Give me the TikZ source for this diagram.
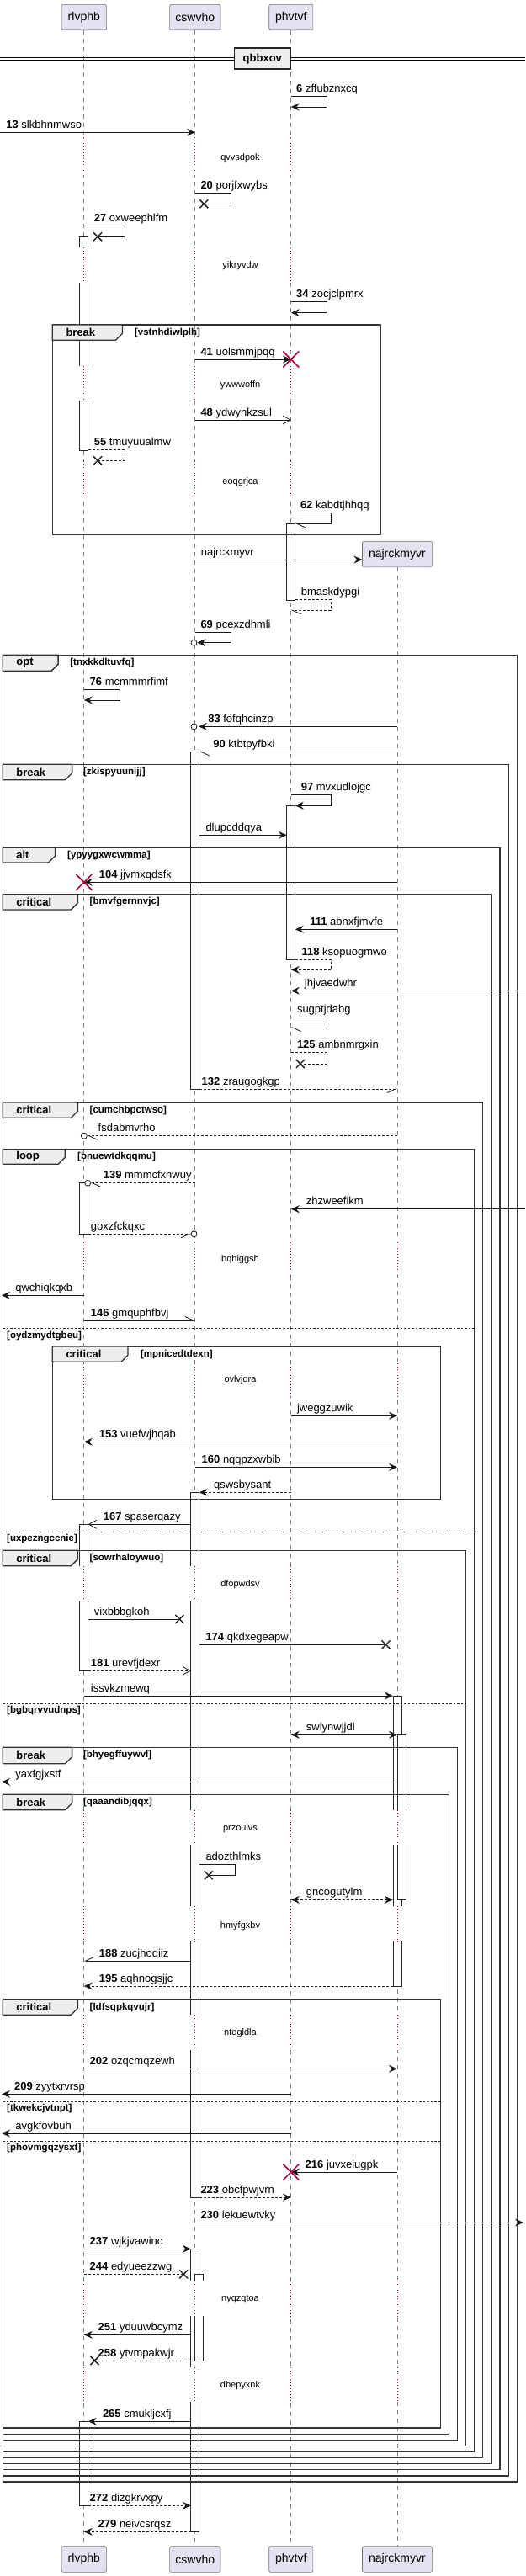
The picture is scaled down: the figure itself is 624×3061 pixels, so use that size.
\documentclass[tikz,border=0pt]{standalone}
\usepackage{fontspec}
\setmainfont{Liberation Sans}
\usetikzlibrary{arrows.meta}
\definecolor{crim}{HTML}{A80036}
\definecolor{partfill}{HTML}{E2E2F0}
\definecolor{tabgray}{HTML}{EEEEEE}
\newcommand\fmsg{\fontsize{13}{15}\selectfont}
\newcommand\fsml{\fontsize{11}{13}\selectfont}
\newcommand\fgrd{\fontsize{11.5}{13}\selectfont\bfseries}
\newcommand\ftab{\fontsize{13}{15}\selectfont\bfseries}
\newcommand\fpart{\fontsize{14}{16}\selectfont}
\def\xA{99.8}\def\xB{231.8}\def\xC{345.8}\def\xD{471.9}
\newcommand\actbox[4]{\draw[actv] ({#1},#3) rectangle ({#2},#4);}
\newcommand\blackx[2]{\draw[xmk] ({#1-5},{#2-5}) -- ({#1+5},{#2+5}) ({#1-5},{#2+5}) -- ({#1+5},{#2-5});}
\newcommand\redx[2]{\draw[rxmk] ({#1-9.5},{#2-9.5}) -- ({#1+9.5},{#2+9.5}) ({#1-9.5},{#2+9.5}) -- ({#1+9.5},{#2-9.5});}
\newcommand\mycirc[2]{\draw[m,fill=white] ({#1},#2) circle[radius=3.5pt];}
\newcommand\mlbl[3]{\node[lbl] at (#1,#2) {#3};}
\newcommand\delaybar[5]{%
  \foreach \xx in {#5} {\fill[white] ({\xx-7},#1) rectangle ({\xx+11},#2); \draw[dly] (\xx,#1) -- (\xx,#2);}
  \node[dtxt] at (285.5,#3) {#4};}
\newcommand\grpframe[9]{%
  \draw[frm] (#1,#2) rectangle (#3,#4);
  \draw[frm,fill=tabgray] (#1,#2) -- (#5,#2) -- (#5,{#6-8}) -- ({#5-8},#6) -- (#1,#6) -- cycle;
  \node[tablbl] at ({#1+16},{(#2+#6)/2}) {#7};
  \node[grd] at (#9,{(#2+#6)/2}) {#8};}
\newcommand\grpelse[3]{%
  \draw[elsl] (3.2,#1) -- (#2,#1);
  \node[grd] at (8,{#1+8.5}) {#3};}
\begin{document}
\begin{tikzpicture}[x=1pt,y=-1pt,
  part/.style={draw=black!55,fill=partfill,rounded corners=2pt,minimum height=30.6pt,inner sep=0pt,font=\fpart,line width=0.6pt},
  life/.style={draw=black!50,line width=0.7pt,dash pattern=on 5pt off 5pt},
  actv/.style={draw=black!85,fill=white,line width=0.8pt},
  m/.style={draw=black!90,line width=0.8pt},
  ds/.style={dash pattern=on 3pt off 2pt},
  fa/.style={-{Stealth[length=10pt,width=9pt,inset=3.5pt]}},
  fab/.style={{Stealth[length=10pt,width=9pt,inset=3.5pt]}-{Stealth[length=10pt,width=9pt,inset=3.5pt]}},
  oa/.style={-{Straight Barb[length=9pt,width=10pt]}},
  hal/.style={-{Straight Barb[left,length=10pt,width=9pt]}},
  har/.style={-{Straight Barb[right,length=10pt,width=9pt]}},
  xmk/.style={draw=black!85,line width=1.5pt},
  rxmk/.style={draw=crim,line width=1.5pt},
  lbl/.style={anchor=base west,inner sep=0pt,font=\fmsg},
  dtxt/.style={inner sep=0pt,font=\fsml},
  dly/.style={draw=crim,line width=0.8pt,dash pattern=on 0.9pt off 2.6pt},
  frm/.style={draw=black!80,line width=1.3pt},
  elsl/.style={draw=black!85,line width=0.8pt,dash pattern=on 2.5pt off 2pt},
  tablbl/.style={anchor=west,inner sep=0pt,font=\ftab},
  grd/.style={anchor=west,inner sep=0pt,font=\fgrd}]
\useasboundingbox (0,0) rectangle (624,3061);
% participants
\node[part,minimum width=53.5pt] (pA) at (\xA,20.65) {rlvphb};
\node[part,minimum width=60.3pt] (pB) at (\xB,20.65) {cswvho};
\node[part,minimum width=52.2pt] (pC) at (\xC,20.65) {phvtvf};
\node[part,minimum width=82.8pt] (pD) at (\xD,658.5) {najrckmyvr};
\node[part,minimum width=53.5pt] (qA) at (\xA,3041) {rlvphb};
\node[part,minimum width=60.3pt] (qB) at (\xB,3041) {cswvho};
\node[part,minimum width=52.2pt] (qC) at (\xC,3041) {phvtvf};
\node[part,minimum width=82.8pt] (qD) at (\xD,3041) {najrckmyvr};
\draw[life] (pA.south) -- (qA.north);
\draw[life] (pB.south) -- (qB.north);
\draw[life] (pC.south) -- (qC.north);
\draw[life] (pD.south) -- (qD.north);
% activations
\actbox{\xA-5}{\xA+5}{281.3}{535}
\actbox{\xC-5}{\xC+5}{622.3}{713.3}
\actbox{\xB-5}{\xB+5}{893.3}{1294}
\actbox{\xC-5}{\xC+5}{957.3}{1140}
\actbox{\xA-5}{\xA+5}{1405.7}{1466}
\actbox{\xB-5}{\xB+5}{1773.3}{2611}
\actbox{\xA-5}{\xA+5}{1811.3}{1985.3}
\actbox{\xD-5}{\xD+5}{2015}{2360}
\actbox{\xD}{\xD+10}{2061.3}{2257.3}
\actbox{\xB-5}{\xB+5}{2672.3}{3008.3}
\actbox{\xB}{\xB+10}{2702.3}{2805}
\actbox{\xA-5}{\xA+5}{2877.3}{2977.3}
% delays
\delaybar{163.3}{208}{187.7}{qvvsdpok}{\xA,\xB,\xC}
\delaybar{294}{336}{316}{yikryvdw}{\xA,\xB,\xC}
\delaybar{435}{476}{457.3}{ywwwoffn}{\xA,\xB,\xC}
\delaybar{547.7}{590.7}{572.3}{eoqgrjca}{\xA,\xB,\xC}
\delaybar{1472.7}{1515}{1496.7}{bqhiggsh}{\xA,\xB,\xC,\xD}
\delaybar{1620}{1660}{1640}{ovlvjdra}{\xA,\xB,\xC,\xD}
\delaybar{1860.7}{1902.7}{1882.3}{dfopwdsv}{\xA,\xB,\xC,\xD}
\delaybar{2150.7}{2192.3}{2172.3}{przoulvs}{\xA,\xB,\xC,\xD}
\delaybar{2265}{2307.3}{2288.3}{hmyfgxbv}{\xA,\xB,\xC,\xD}
\delaybar{2394.3}{2436}{2416}{ntogldla}{\xA,\xB,\xC,\xD}
\delaybar{2710}{2752.3}{2732.3}{nyqzqtoa}{\xA,\xB,\xC,\xD}
\delaybar{2813.3}{2854}{2835}{dbepyxnk}{\xA,\xB,\xC,\xD}
% divider
\draw[line width=0.8pt] (0,68.5) -- (624,68.5) (0,71.8) -- (624,71.8);
\node[draw=black!85,fill=tabgray,line width=1.6pt,minimum width=66.7pt,minimum height=24.7pt,inner sep=0pt,font=\ftab] (dv) at (311.85,69.65) {qbbxov};
% frames
\grpframe{62.3}{386}{452.1}{635}{145.5}{404.3}{break}{[vstnhdiwlplh]}{159.9}
\grpframe{3.2}{778.3}{614.8}{2949}{69.1}{797.3}{opt}{[tnxkkdltuvfq]}{83.2}
\grpframe{3.2}{908.3}{604.8}{2942}{85.6}{926.7}{break}{[zkispyuunijj]}{98.9}
\grpframe{3.2}{1007.3}{593.9}{2934.7}{65.5}{1025}{alt}{[ypyygxwcwmma]}{80}
\grpframe{3.2}{1062.7}{583.9}{2927.7}{92.4}{1081}{critical}{[bmvfgernnvjc]}{106.5}
\grpframe{3.2}{1310}{573.8}{2920.7}{92.4}{1328.3}{critical}{[cumchbpctwso]}{106.5}
\grpframe{3.2}{1365.7}{563.8}{2913.7}{77.2}{1383.3}{loop}{[bnuewtdkqqmu]}{92}
\grpelse{1578.7}{563.8}{[oydzmydtgbeu]}
\grpframe{62.3}{1600}{523.2}{1781.7}{151.9}{1618.3}{critical}{[mpnicedtdexn]}{166.8}
\grpelse{1820.3}{563.8}{[uxpezngccnie]}
\grpframe{3.2}{1842.3}{553.7}{2906.7}{92.4}{1860.7}{critical}{[sowrhaloywuo]}{106.5}
\grpelse{2024}{553.7}{[bgbqrvvudnps]}
\grpframe{3.2}{2076.3}{543.7}{2899.3}{85.6}{2095.7}{break}{[bhyegffuywvl]}{98.9}
\grpframe{3.2}{2132.3}{533.6}{2892.3}{85.6}{2150.7}{break}{[qaaandibjqqx]}{98.9}
\grpframe{3.2}{2375.7}{523.2}{2885}{92.4}{2394.3}{critical}{[ldfsqpkqvujr]}{106.5}
\grpelse{2497.3}{523.2}{[tkwekcjvtnpt]}
\grpelse{2544}{523.2}{[phovmgqzysxt]}
% messages
\draw[m,fa] (\xC,114.3) -- (388.2,114.3) -- (388.2,127) -- (\xC,127);
\mlbl{352}{109.3}{\textbf{6} zffubznxcq}
\draw[m,fa] (0,157.3) -- (\xB,157.3);
\mlbl{7.2}{152.3}{\textbf{13} slkbhnmwso}
\draw[m] (\xB,229.3) -- (274.1,229.3) -- (274.1,242.3) -- (242.3,242.3);
\blackx{242.3}{242.3}
\mlbl{238.3}{224.3}{\textbf{20} porjfxwybs}
\draw[m] (\xA,268.7) -- (147.9,268.7) -- (147.9,281.3) -- (116.1,281.3);
\blackx{116.1}{281.3}
\mlbl{111.7}{263.7}{\textbf{27} oxweephlfm}
\draw[m,fa] (\xC,358.3) -- (388.2,358.3) -- (388.2,371.7) -- (\xC,371.7);
\mlbl{352}{353.3}{\textbf{34} zocjclpmrx}
\draw[m,fa] (\xB,427) -- (\xC,427);
\redx{\xC}{427}
\mlbl{238.3}{422}{\textbf{41} uolsmmjpqq}
\draw[m,oa] (\xB,499) -- (\xC,499);
\mlbl{238.3}{494}{\textbf{48} ydwynkzsul}
\draw[m,ds] (\xA+5,534.3) -- (147.9,534.3) -- (147.9,547.3) -- (116.1,547.3);
\blackx{116.1}{547.3}
\mlbl{111.7}{529.3}{\textbf{55} tmuyuualmw}
\draw[m,hal] (\xC,609.3) -- (393,609.3) -- (393,622.3) -- (\xC+5,622.3);
\mlbl{356.8}{604.3}{\textbf{62} kabdtjhhqq}
\draw[m,fa] (\xB,665) -- (430.4,665);
\mlbl{238.7}{660}{najrckmyvr}
\draw[m,ds,hal] (\xC+5,712.3) -- (393,712.3) -- (393,725.3) -- (\xC,725.3);
\mlbl{357.6}{707.3}{bmaskdypgi}
\draw[m,fa] (\xB,751.3) -- (274.1,751.3) -- (274.1,763.7) -- (\xB+2.5,763.7);
\mycirc{\xB-1.3}{763.7}
\mlbl{238.3}{746.3}{\textbf{69} pcexzdhmli}
\draw[m,fa] (\xA,819.3) -- (142.7,819.3) -- (142.7,832) -- (\xA,832);
\mlbl{106.5}{814.3}{\textbf{76} mcmmmrfimf}
\draw[m,fa] (\xD,863.3) -- (236,863.3);
\mycirc{\xB-1.3}{863.3}
\mlbl{247.1}{858.3}{\textbf{83} fofqhcinzp}
\draw[m,hal] (\xD,893.3) -- (\xB+5,893.3);
\mlbl{253.2}{888.3}{\textbf{90} ktbtpyfbki}
\draw[m,fa] (\xC,944.7) -- (393,944.7) -- (393,957.3) -- (\xC+5,957.3);
\mlbl{357.6}{939.7}{\textbf{97} mvxudlojgc}
\draw[m,fa] (\xB+5,992.3) -- (\xC-5,992.3);
\mlbl{244.3}{987.3}{dlupcddqya}
\draw[m,fa] (\xD,1048.3) -- (\xA,1048.3);
\redx{\xA}{1048.3}
\mlbl{117.7}{1043.3}{\textbf{104} jjvmxqdsfk}
\draw[m,fa] (\xD,1104.3) -- (\xC+5,1104.3);
\mlbl{368.1}{1099.3}{\textbf{111} abnxfjmvfe}
\draw[m,ds,fa] (\xC+5,1140) -- (393,1140) -- (393,1152.3) -- (\xC,1152.3);
\mlbl{358.4}{1135}{\textbf{118} ksopuogmwo}
\draw[m,fa] (624,1177.3) -- (\xC,1177.3);
\mlbl{361.7}{1172.3}{jhjvaedwhr}
\draw[m,hal] (\xC,1208.7) -- (388.2,1208.7) -- (388.2,1221) -- (\xC,1221);
\mlbl{352.8}{1203.7}{sugptjdabg}
\draw[m,ds] (\xC,1250.7) -- (388.2,1250.7) -- (388.2,1264) -- (356.8,1264);
\blackx{356.8}{1264}
\mlbl{352.8}{1245.7}{\textbf{125} ambnmrgxin}
\draw[m,ds,har] (\xB+5,1294) -- (\xD,1294);
\mlbl{239.5}{1289}{\textbf{132} zraugogkgp}
\draw[m,ds,hal] (\xD,1349.7) -- (\xA+4,1349.7);
\mycirc{\xA}{1349.7}
\mlbl{116.5}{1344.7}{fsdabmvrho}
\draw[m,ds,hal] (\xB,1405.7) -- (\xA+8,1405.7);
\mycirc{\xA+4.5}{1405.7}
\mlbl{122.6}{1400.7}{\textbf{139} mmmcfxnwuy}
\draw[m,fa] (624,1436.7) -- (\xC,1436.7);
\mlbl{363.7}{1431.7}{zhzweefikm}
\draw[m,ds,har] (\xA+5,1466.3) -- (\xB-5,1466.3);
\mycirc{\xB-1.3}{1466.3}
\mlbl{107.7}{1461.3}{gpxzfckqxc}
\draw[m,fa] (\xA,1539.3) -- (2,1539.3);
\mlbl{18.1}{1534.3}{qwchiqkqxb}
\draw[m,hal] (\xA,1569) -- (\xB,1569);
\mlbl{107.7}{1564}{\textbf{146} gmquphfbvj}
\draw[m,fa] (\xC,1682.3) -- (\xD,1682.3);
\mlbl{352.8}{1677.3}{jweggzuwik}
\draw[m,fa] (\xD,1713.3) -- (\xA,1713.3);
\mlbl{117.7}{1708.3}{\textbf{153} vuefwjhqab}
\draw[m,fa] (\xB,1743.3) -- (\xD,1743.3);
\mlbl{239.5}{1738.3}{\textbf{160} nqqpzxwbib}
\draw[m,ds,fa] (\xC,1773.3) -- (\xB+5,1773.3);
\mlbl{254}{1768.3}{qswsbysant}
\draw[m,oa] (\xB-5,1811.3) -- (\xA+5,1811.3);
\mlbl{122.6}{1806.3}{\textbf{167} spaserqazy}
\draw[m] (\xA+5,1924) -- (213.4,1924);
\blackx{213.4}{1924}
\mlbl{111.7}{1919}{vixbbbgkoh}
\draw[m] (\xB+5,1954.3) -- (458.5,1954.3);
\blackx{458.5}{1954.3}
\mlbl{244.3}{1949.3}{\textbf{174} qkdxegeapw}
\draw[m,ds,oa] (\xA+5,1985.3) -- (\xB-5,1985.3);
\mlbl{107.7}{1980.3}{\textbf{181} urevfjdexr}
\draw[m,fa] (\xA,2015) -- (\xD-5,2015);
\mlbl{107.7}{2010}{issvkzmewq}
\draw[m,fab] (\xC,2061.3) -- (\xD,2061.3);
\mlbl{363.7}{2056.3}{swiynwjjdl}
\draw[m,fa] (\xD-5,2117.3) -- (2,2117.3);
\mlbl{18.1}{2112.3}{yaxfgjxstf}
\draw[m] (\xB+5,2215.7) -- (279.3,2215.7) -- (279.3,2228.3) -- (247.9,2228.3);
\blackx{247.9}{2228.3}
\mlbl{244.3}{2210.7}{adozthlmks}
\draw[m,ds,fab] (\xC,2257.3) -- (\xD-5,2257.3);
\mlbl{363.7}{2252.3}{gncogutylm}
\draw[m,har] (\xB-5,2330) -- (\xA,2330);
\mlbl{117.7}{2325}{\textbf{188} zucjhoqiiz}
\draw[m,ds,fa] (\xD-5,2360) -- (\xA,2360);
\mlbl{117.7}{2355}{\textbf{195} aqhnogsjjc}
\draw[m,fa] (\xA,2458.3) -- (\xD,2458.3);
\mlbl{106.5}{2453.3}{\textbf{202} ozqcmqzewh}
\draw[m,fa] (\xC,2488.3) -- (2,2488.3);
\mlbl{16.9}{2483.3}{\textbf{209} zyytxrvrsp}
\draw[m,fa] (\xC,2535) -- (2,2535);
\mlbl{18.1}{2530}{avgkfovbuh}
\draw[m,fa] (\xD,2581) -- (\xC,2581);
\redx{\xC}{2581}
\mlbl{362.5}{2576}{\textbf{216} juvxeiugpk}
\draw[m,ds,fa] (\xB+5,2611) -- (\xC,2611);
\mlbl{238.3}{2606}{\textbf{223} obcfpwjvrn}
\draw[m,fa] (\xB,2641) -- (622,2641);
\mlbl{238.3}{2636}{\textbf{230} lekuewtvky}
\draw[m,fa] (\xA,2672.3) -- (\xB-5,2672.3);
\mlbl{106.5}{2667.3}{\textbf{237} wjkjvawinc}
\draw[m,ds] (\xA,2702.3) -- (218.2,2702.3);
\blackx{218.2}{2702.3}
\mlbl{106.5}{2697.3}{\textbf{244} edyueezzwg}
\draw[m,fa] (\xB-5,2774.3) -- (\xA,2774.3);
\mlbl{116.5}{2769.3}{\textbf{251} yduuwbcymz}
\draw[m,ds] (\xB-5,2805) -- (112.5,2805);
\blackx{112.5}{2805}
\mlbl{116.5}{2800}{\textbf{258} ytvmpakwjr}
\draw[m,fa] (\xB-5,2877.3) -- (\xA+5,2877.3);
\mlbl{121.8}{2872.3}{\textbf{265} cmukljcxfj}
\draw[m,ds,fa] (\xA+5,2977.3) -- (\xB-5,2977.3);
\mlbl{106.5}{2972.3}{\textbf{272} dizgkrvxpy}
\draw[m,ds,fa] (\xB-5,3008.3) -- (\xA,3008.3);
\mlbl{116.5}{3003.3}{\textbf{279} neivcsrqsz}
\end{tikzpicture}
\end{document}
